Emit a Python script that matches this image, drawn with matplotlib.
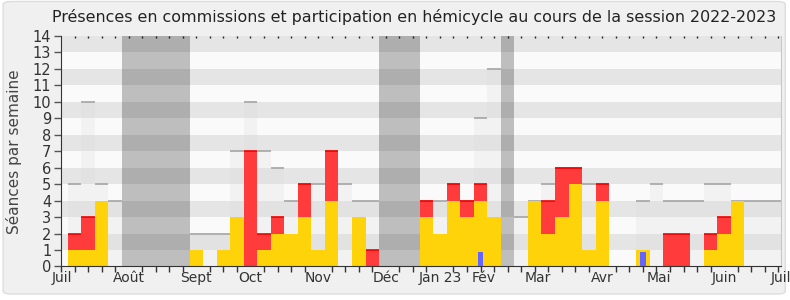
import matplotlib
matplotlib.use("Agg")
import matplotlib.pyplot as plt
from matplotlib.patches import FancyBboxPatch
import numpy as np

# ---------------------------------------------------------------------------
# Data (one value per week, week 1 = first week of July 2022)
# ---------------------------------------------------------------------------
semaines = np.arange(1, 54)

# light grey bars: number of sittings held that week
seances = [5, 10, 5, 4, 0, 0, 0, 0, 0, 2, 2, 2, 7, 10, 7, 6, 4, 5, 5, 7,
           5, 4, 4, 0, 0, 0, 4, 4, 5, 4, 9, 12, 0, 3, 4, 5, 6, 6, 5, 5,
           0, 0, 4, 5, 4, 4, 4, 5, 5, 4, 4, 4, 4]
# yellow: presences in commission
commission = [1, 1, 4, 0, 0, 0, 0, 0, 0, 1, 0, 1, 3, 0, 1, 2, 2, 3, 1, 4,
              0, 3, 0, 0, 0, 0, 3, 2, 4, 3, 4, 3, 0, 0, 4, 2, 3, 5, 1, 4,
              0, 0, 1, 0, 0, 0, 0, 1, 2, 4, 0, 0, 0]
# red: participation in the hemicycle (stacked on top of commission)
hemicycle = [1, 2, 0, 0, 0, 0, 0, 0, 0, 0, 0, 0, 0, 7, 1, 1, 0, 2, 0, 3,
             0, 0, 1, 0, 0, 0, 1, 0, 1, 1, 1, 0, 0, 0, 0, 2, 3, 1, 0, 1,
             0, 0, 0, 0, 2, 2, 0, 1, 1, 0, 0, 0, 0]
# blue: oral questions
questions = [0] * 30 + [0.9] + [0] * 11 + [0.9] + [0] * 10

# parliamentary holidays (first week, last week)
vacances = [(5, 9), (24, 26), (33, 33)]

mois_pos = [0.1, 5, 10, 14, 19, 24, 28, 31.2, 35.2, 40, 44.2, 49, 53.2]
mois_lab = ["Juil", "Août", "Sept", "Oct", "Nov", "Déc", "Jan 23", "Fév",
            "Mar", "Avr", "Mai", "Juin", "Juil"]

YMAX = 14
XMAX = 53.2

# ---------------------------------------------------------------------------
# Figure
# ---------------------------------------------------------------------------
plt.rcParams["font.family"] = ["DejaVu Sans"]
fig = plt.figure(figsize=(7.9, 3.0), dpi=100)
fig.patch.set_facecolor("white")
fig.patches.append(FancyBboxPatch((0.004, 0.02), 0.99, 0.975,
                                  boxstyle="round,pad=0,rounding_size=0.01",
                                  transform=fig.transFigure,
                                  facecolor="#F0F0F0", edgecolor="#DDDDDD",
                                  lw=1, zorder=-10))

ax = fig.add_axes([0.0772, 0.1117, 0.9114, 0.7683])
ax.set_facecolor("#FAFAFA")

# horizontal stripes
for y in range(1, YMAX, 2):
    ax.axhspan(y, y + 1, color="#E5E5E5", lw=0, zorder=0)

# sittings (light grey) with darker top line
ax.bar(semaines, seances, width=1, color="#D8D8D8", alpha=0.22,
       lw=0, zorder=1)
for x, v in zip(semaines, seances):
    if v > 0:
        ax.plot([x - 0.5, x + 0.5], [v, v], color="#AAAAAA", lw=1.3,
                solid_capstyle="butt", zorder=1.5)

# commission (yellow) + hemicycle (red)
ax.bar(semaines, commission, width=1, color="#FFD30A", lw=0, zorder=2)
ax.bar(semaines, hemicycle, bottom=commission, width=1, color="#FF3B3B",
       lw=0, zorder=2)
for x, c, h in zip(semaines, commission, hemicycle):
    if h > 0:
        ax.plot([x - 0.5, x + 0.5], [c + h, c + h], color="#F00000",
                lw=1.2, solid_capstyle="butt", zorder=2.5)

# oral questions (blue, narrow)
ax.bar(semaines, questions, width=0.38, color="#6464FF", lw=0, zorder=3)

# holidays
for a, b in vacances:
    ax.axvspan(a - 0.5, b + 0.5, color="black", alpha=0.24, lw=0, zorder=4)

ax.set_xlim(0, XMAX)
ax.set_ylim(0, YMAX)

ax.set_yticks(range(0, YMAX + 1))
ax.set_xticks(mois_pos)
ax.set_xticklabels(mois_lab)
ax.set_xticks(np.arange(0, 54), minor=True)
ax.tick_params(axis="x", which="major", length=0, pad=3,
               labelsize=10, labelcolor="#333333")
ax.tick_params(axis="x", which="minor", length=4, width=1, color="#333333",
               direction="out")
ax.tick_params(axis="y", length=5, width=1, color="#555555", pad=2,
               labelsize=10.5, labelcolor="#333333")

top = ax.secondary_xaxis("top")
top.set_xticks(np.arange(1, 54))
top.tick_params(length=1.5, width=1, direction="in", color="#222222",
                labeltop=False)
top.spines["top"].set_visible(False)

ax.spines["top"].set_visible(False)
ax.spines["right"].set_color("#C8C8C8")
ax.spines["left"].set_color("#333333")
ax.spines["bottom"].set_color("#333333")

ax.set_ylabel("Séances par semaine", fontsize=11, color="#444444",
              labelpad=8)

fig.text(0.524, 0.943, "Présences en commissions et participation en "
         "hémicycle au cours de la session 2022-2023",
         ha="center", va="center", fontsize=11.4, color="#222222")

fig.savefig("out.png", dpi=100, facecolor=fig.get_facecolor())
